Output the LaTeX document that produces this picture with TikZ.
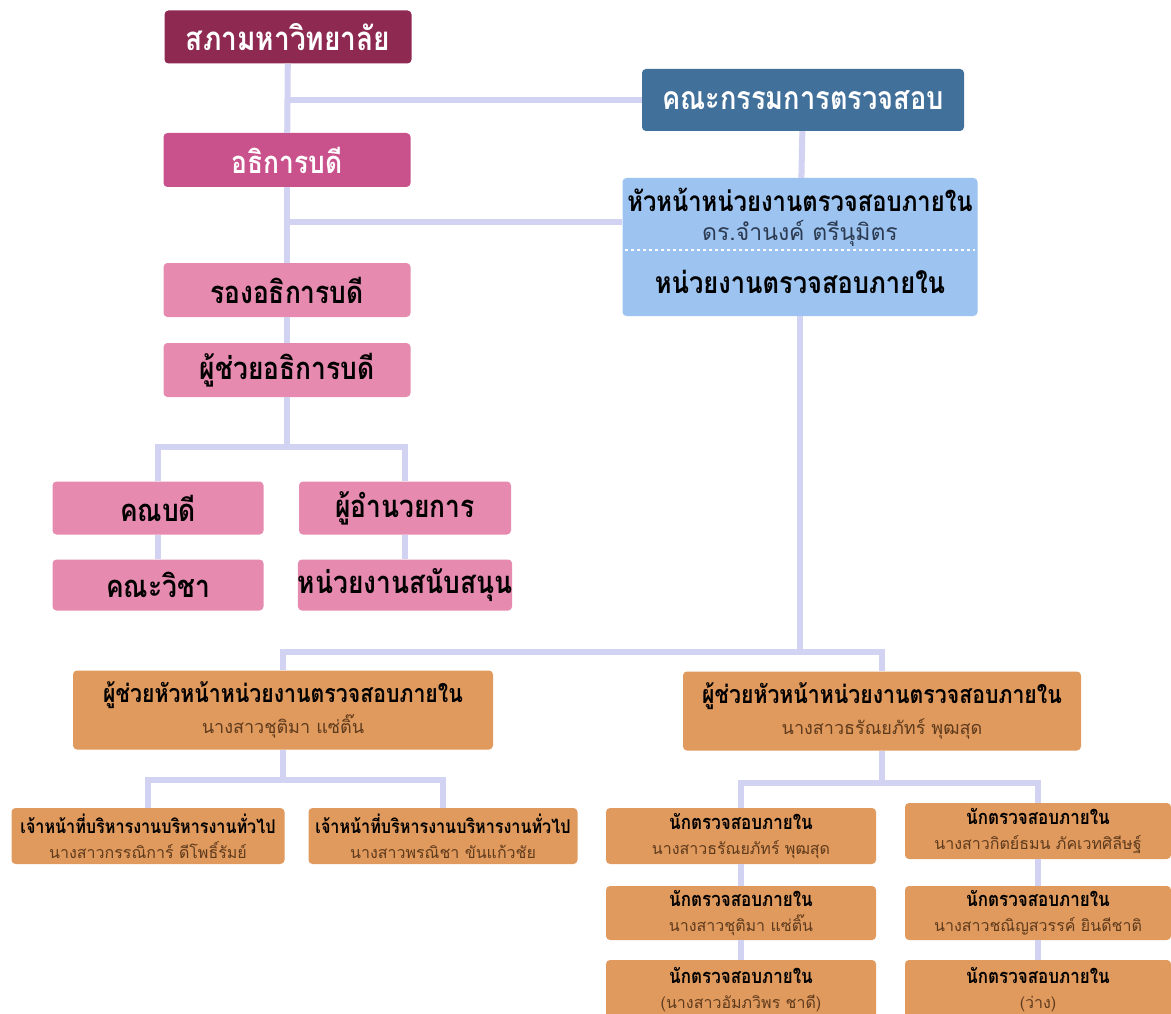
\documentclass[tikz,border=0pt]{standalone}
\usepackage{fontspec}
\newfontfamily\thai[Script=Thai]{Loma}
\newfontfamily\thaib[Script=Thai,FakeStretch=0.85]{Loma}
\newcommand{\roletext}[2]{{\thaib\bfseries\fontsize{#1}{#1}\selectfont #2}}
\definecolor{councilred}{HTML}{8E2A52}
\definecolor{presmag}{HTML}{C9528C}
\definecolor{vppink}{HTML}{E68AAF}
\definecolor{auditblue}{HTML}{41709A}
\definecolor{headblue}{HTML}{9DC4F0}
\definecolor{staffor}{HTML}{E09A5E}
\definecolor{linklav}{HTML}{D2D2F2}
\definecolor{nametext}{HTML}{5E3A1C}
\definecolor{headname}{HTML}{2C3B52}

\begin{document}
\begin{tikzpicture}[x=1pt,y=-1pt,
  box/.style={rounded corners=4pt,inner sep=0pt,align=center},
  bigbox/.style={box,font=\thaib\bfseries\fontsize{31}{34}\selectfont},
  pinkbox/.style={bigbox,fill=vppink,text=black},
  asstbox/.style={box,fill=staffor,minimum height=79pt,font=\thai\fontsize{18}{31}\selectfont},
  smallbox/.style={box,fill=staffor,minimum height=56pt,font=\thai\fontsize{16}{25}\selectfont},
  auditbox/.style={smallbox,minimum width=270pt},
  auditbox2/.style={smallbox,minimum width=266pt},
  link/.style={draw=linklav,line width=6pt}]
\clip (0,0) rectangle (1171,1014);
\fill[white] (0,0) rectangle (1171,1014);

% university side
\node[bigbox,fill=councilred,text=white,minimum width=247pt,minimum height=53pt,font=\thaib\bfseries\fontsize{33}{36}\selectfont] (sapha) at (288,37) {สภามหาวิทยาลัย};
\node[bigbox,fill=presmag,text=white,minimum width=247pt,minimum height=54pt] (adhikan) at (287,160) {อธิการบดี};
\node[pinkbox,minimum width=247pt,minimum height=54pt] (rong) at (287,290) {รองอธิการบดี};
\node[pinkbox,minimum width=247pt,minimum height=54pt] (phuchuay) at (287,370) {ผู้ช่วยอธิการบดี};
\node[pinkbox,minimum width=211pt,minimum height=53pt] (khanabodi) at (158,508) {คณบดี};
\node[pinkbox,minimum width=211pt,minimum height=51pt] (khanawicha) at (158,585) {คณะวิชา};
\node[pinkbox,minimum width=212pt,minimum height=53pt] (phuamnuay) at (405,508) {ผู้อำนวยการ};
\node[pinkbox,minimum width=212pt,minimum height=51pt] (nuaysanub) at (405,585) {หน่วยงานสนับสนุน};

% audit side
\node[bigbox,fill=auditblue,text=white,minimum width=322pt,minimum height=62pt,font=\thaib\bfseries\fontsize{32}{36}\selectfont] (kammakan) at (803,100) {คณะกรรมการตรวจสอบ};
\node[box,fill=headblue,minimum width=355pt,minimum height=138pt] (head) at (800,247) {};
\node (headtitle) at (800,200) {\roletext{28}{หัวหน้าหน่วยงานตรวจสอบภายใน}};
\node[font=\thai\fontsize{23}{26}\selectfont,text=headname] (headname) at (800,233) {ดร.จำนงค์ ตรีนุมิตร};
\node (headunit) at (800,282) {\roletext{30}{หน่วยงานตรวจสอบภายใน}};
\coordinate (divider) at (800,250);
\draw[white,dashed,line width=1.5pt] ([xshift=3pt]head.west |- divider) -- ([xshift=-3pt]head.east |- divider);

\node[asstbox,minimum width=420pt] (asst1) at (283,710) {\roletext{25}{ผู้ช่วยหัวหน้าหน่วยงานตรวจสอบภายใน}\\\textcolor{nametext}{นางสาวชุติมา แซ่ติ๊น}};
\node[asstbox,minimum width=398pt] (asst2) at (882,711) {\roletext{25}{ผู้ช่วยหัวหน้าหน่วยงานตรวจสอบภายใน}\\\textcolor{nametext}{นางสาวธรัณยภัทร์ พุฒสุด}};
\node[smallbox,minimum width=273pt] (staff1) at (148,836) {\roletext{19}{เจ้าหน้าที่บริหารงานบริหารงานทั่วไป}\\\textcolor{nametext}{นางสาวกรรณิการ์ ดีโพธิ์รัมย์}};
\node[smallbox,minimum width=269pt] (staff2) at (443,836) {\roletext{19}{เจ้าหน้าที่บริหารงานบริหารงานทั่วไป}\\\textcolor{nametext}{นางสาวพรณิชา ขันแก้วชัย}};
\node[auditbox] (aud1) at (741,836) {\roletext{20}{นักตรวจสอบภายใน}\\\textcolor{nametext}{นางสาวธรัณยภัทร์ พุฒสุด}};
\node[auditbox,minimum height=54pt] (aud2) at (741,913) {\roletext{20}{นักตรวจสอบภายใน}\\\textcolor{nametext}{นางสาวชุติมา แซ่ติ๊น}};
\node[auditbox,minimum height=60pt] (aud3) at (741,990) {\roletext{20}{นักตรวจสอบภายใน}\\\textcolor{nametext}{(นางสาวอัมภวิพร ชาดี)}};
\node[auditbox2] (aud4) at (1038,831) {\roletext{20}{นักตรวจสอบภายใน}\\\textcolor{nametext}{นางสาวกิตย์ธมน ภัคเวทศิลีษฐ์}};
\node[auditbox2,minimum height=54pt] (aud5) at (1038,913) {\roletext{20}{นักตรวจสอบภายใน}\\\textcolor{nametext}{นางสาวชณิญสวรรค์ ยินดีชาติ}};
\node[auditbox2,minimum height=60pt] (aud6) at (1038,990) {\roletext{20}{นักตรวจสอบภายใน}\\\textcolor{nametext}{(ว่าง)}};

% connectors
\coordinate (headlink) at ([yshift=25pt]head.west);
\coordinate (fork1) at (287,447);
\coordinate (fork2) at (800,652);
\coordinate (fork3) at (283,780);
\coordinate (fork4) at (882,783);
\draw[link] (sapha) -- (adhikan);
\draw[link] (sapha.south |- kammakan.west) -- (kammakan.west);
\draw[link] (adhikan.south |- headlink) -- (headlink);
\draw[link] (adhikan) -- (rong);
\draw[link] (rong) -- (phuchuay);
\draw[link] (phuchuay) -- (fork1);
\draw[link] (khanabodi.north) |- (fork1) -| (phuamnuay.north);
\draw[link] (khanabodi) -- (khanawicha);
\draw[link] (phuamnuay) -- (nuaysanub);
\draw[link] (kammakan) -- (head);
\draw[link] (head) -- (fork2);
\draw[link] (asst1.north) |- (fork2) -| (asst2.north);
\draw[link] (asst1) -- (fork3);
\draw[link] (staff1.north) |- (fork3) -| (staff2.north);
\draw[link] (asst2) -- (fork4);
\draw[link] (aud1.north) |- (fork4) -| (aud4.north);
\draw[link] (aud1) -- (aud2);
\draw[link] (aud2) -- (aud3);
\draw[link] (aud4) -- (aud5);
\draw[link] (aud5) -- (aud6);
\end{tikzpicture}
\end{document}
